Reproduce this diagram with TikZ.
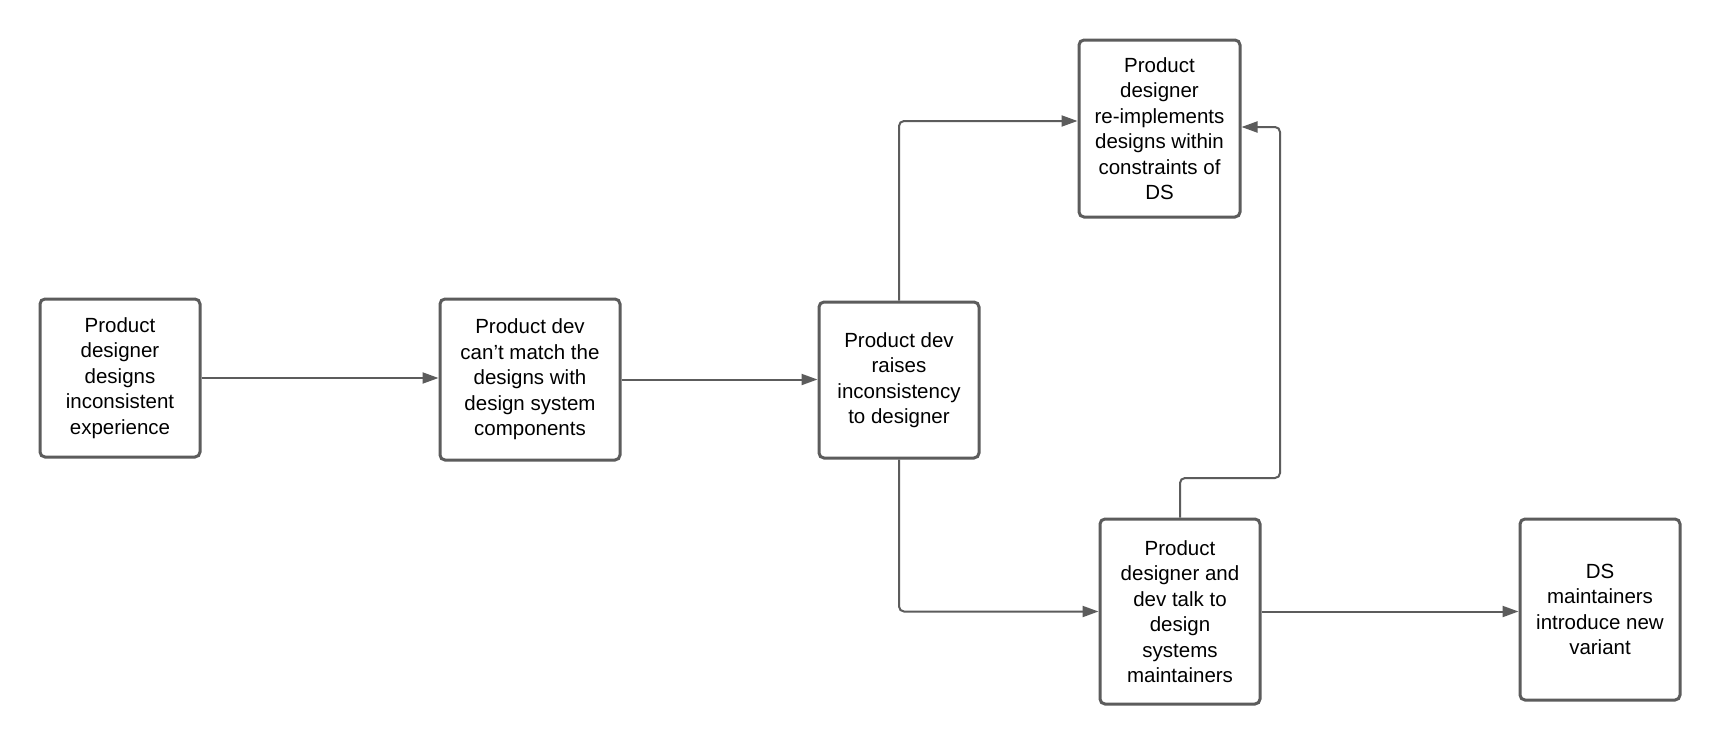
\documentclass[tikz,border=0pt]{standalone}
\usepackage{fontspec}
\setmainfont{Liberation Sans}
\usetikzlibrary{arrows.meta}
\definecolor{linegray}{HTML}{5C5C5C}
\tikzset{
  box/.style={draw=linegray, line width=3pt, rounded corners=5pt, fill=white,
    align=center, inner sep=0pt, font=\fontsize{20.5}{25.5}\selectfont, text=black},
  conn/.style={draw=linegray, line width=2pt, rounded corners=5pt,
    -{Triangle[length=16pt,width=11pt]}}
}
\begin{document}
\begin{tikzpicture}[x=1pt,y=-1pt]
\useasboundingbox[fill=white] (0,0) rectangle (1720,744);
\node[box, minimum width=160pt, minimum height=158pt] (b1) at (120,378) {Product\\designer\\designs\\inconsistent\\experience};
\node[box, minimum width=180pt, minimum height=161pt] (b2) at (530,379.5) {Product dev\\can’t match the\\designs with\\design system\\components};
\node[box, minimum width=160pt, minimum height=156pt] (b3) at (899,380) {Product dev\\raises\\inconsistency\\to designer};
\node[box, minimum width=161pt, minimum height=177pt] (b4) at (1159.5,128.5) {Product\\designer\\re-implements\\designs within\\constraints of\\DS};
\node[box, minimum width=160pt, minimum height=185pt] (b5) at (1180,611.5) {Product\\designer and\\dev talk to\\design\\systems\\maintainers};
\node[box, minimum width=160pt, minimum height=181pt] (b6) at (1600,609.5) {DS\\maintainers\\introduce new\\variant};
\coordinate (c1) at (1280,478);
\draw[conn] (b1.east) -- (b1.east -| b2.west);
\draw[conn] (b2.east) -- (b2.east -| b3.west);
\draw[conn] (b3.north) |- ([yshift=7.5pt]b4.west);
\draw[conn] (b3.south) |- (b5.west);
\draw[conn] (b5.north) |- (c1) |- ([yshift=1.5pt]b4.east);
\draw[conn] (b5.east) -- (b5.east -| b6.west);
\end{tikzpicture}
\end{document}
